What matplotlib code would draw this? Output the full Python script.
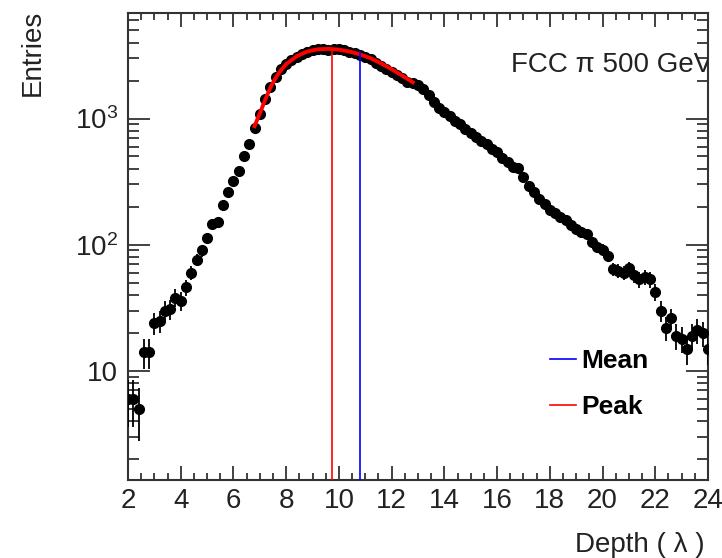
import matplotlib
matplotlib.use("Agg")
import matplotlib.pyplot as plt
from matplotlib.ticker import FixedLocator, LogLocator, MultipleLocator, NullFormatter
from matplotlib.lines import Line2D
import numpy as np

plt.rcParams['font.family'] = ['Liberation Sans', 'DejaVu Sans']
plt.rcParams['mathtext.fontset'] = 'custom'
plt.rcParams['mathtext.rm'] = 'Liberation Sans'
plt.rcParams['mathtext.it'] = 'Liberation Sans:italic'

# shower depth histogram (bin centres, entries)
depth = np.round(np.arange(2.0, 24.01, 0.2), 1)
entries = [6, 6, 5, 14, 14, 24, 25, 30, 31, 38,
           36, 46, 60, 76, 90, 112, 147, 152, 205, 262,
           320, 385, 500, 630, 840, 1080, 1420, 1780, 2150, 2450,
           2700, 2900, 3100, 3250, 3400, 3500, 3580, 3560, 3520, 3530,
           3560, 3500, 3380, 3300, 3200, 3080, 2950, 2780, 2620, 2470,
           2330, 2200, 2090, 1960, 1900, 1830, 1700, 1530, 1360, 1220,
           1120, 1050, 960, 900, 830, 770, 715, 660, 625, 575,
           540, 490, 455, 415, 405, 345, 290, 260, 232, 210,
           188, 178, 165, 157, 143, 134, 126, 122, 104, 96,
           91, 82, 64, 62, 60, 65, 57, 53, 55, 53,
           42, 30, 22, 26, 19, 18, 15, 19, 21, 20,
           15]
errors = np.sqrt(entries)

# fitted curve around the maximum
fit_x = [6.8, 7.0, 7.2, 7.4, 7.6, 7.8, 8.0, 8.4, 8.8, 9.2, 9.6, 10.0,
         10.4, 10.8, 11.2, 11.6, 12.0, 12.4, 12.8]
fit_y = [870, 1100, 1400, 1760, 2100, 2420, 2700, 3120, 3400, 3540, 3570, 3520,
         3400, 3230, 3010, 2740, 2460, 2190, 1940]

peak_x, peak_top = 9.73, 3570
mean_x, mean_top = 10.8, 3450
ymin, ymax = 1.36, 6870

fig = plt.figure(figsize=(7.22, 5.58), dpi=100)
ax = fig.add_axes([128 / 722, 1 - 480 / 558, 580 / 722, 467 / 558])

ax.errorbar(depth, entries, yerr=errors, fmt='o', color='black', ms=7,
            elinewidth=1.3, capsize=0, zorder=3)
ax.plot(fit_x, fit_y, color='#ff0000', lw=2.8, zorder=4)
ax.vlines(peak_x, ymin, peak_top, color='#ff0000', lw=1.2, zorder=5)
ax.vlines(mean_x, ymin, mean_top, color='#0000ff', lw=1.2, zorder=5)

ax.set_yscale('log')
ax.set_xlim(2, 24)
ax.set_ylim(ymin, ymax)

ax.xaxis.set_major_locator(MultipleLocator(2))
ax.xaxis.set_minor_locator(MultipleLocator(0.5))
ax.yaxis.set_major_locator(FixedLocator([10, 100, 1000]))
ax.yaxis.set_minor_locator(LogLocator(base=10, subs=np.arange(2, 10)))
ax.yaxis.set_minor_formatter(NullFormatter())
ax.set_yticklabels(['10', '$10^{2}$', '$10^{3}$'])

ax.tick_params(which='both', direction='in', top=True, right=True,
               labelsize=20, color='#333333', width=1.3, labelcolor='#222222')
ax.tick_params(axis='x', which='major', length=10, pad=6)
ax.tick_params(axis='x', which='minor', length=5)
ax.tick_params(axis='y', which='major', length=16, pad=7)
ax.tick_params(axis='y', which='minor', length=8)
for sp in ax.spines.values():
    sp.set_linewidth(1.5)
    sp.set_color('#333333')

ax.text(1.007, 0.888, 'FCC \u03c0 500 GeV', transform=ax.transAxes,
        ha='right', va='center', fontsize=20, color='#222222', clip_on=True)

handles = [Line2D([], [], color='#0000ff', lw=1.2),
           Line2D([], [], color='#ff0000', lw=1.2)]
ax.legend(handles, ['Mean', 'Peak'], loc='center left',
          bbox_to_anchor=(0.686, 0.205), frameon=False,
          prop={'size': 19, 'weight': 'bold'}, handlelength=1.0,
          handletextpad=0.2, labelspacing=0.85)

fig.text(705 / 722, 1 - 545 / 558, 'Depth ( \u03bb )', ha='right', va='center',
         fontsize=20, color='#222222')
fig.text(33 / 722, 1 - 10 / 558, 'Entries', rotation=90, ha='center', va='top',
         fontsize=20, color='#222222')

fig.savefig('out.png', dpi=100)
